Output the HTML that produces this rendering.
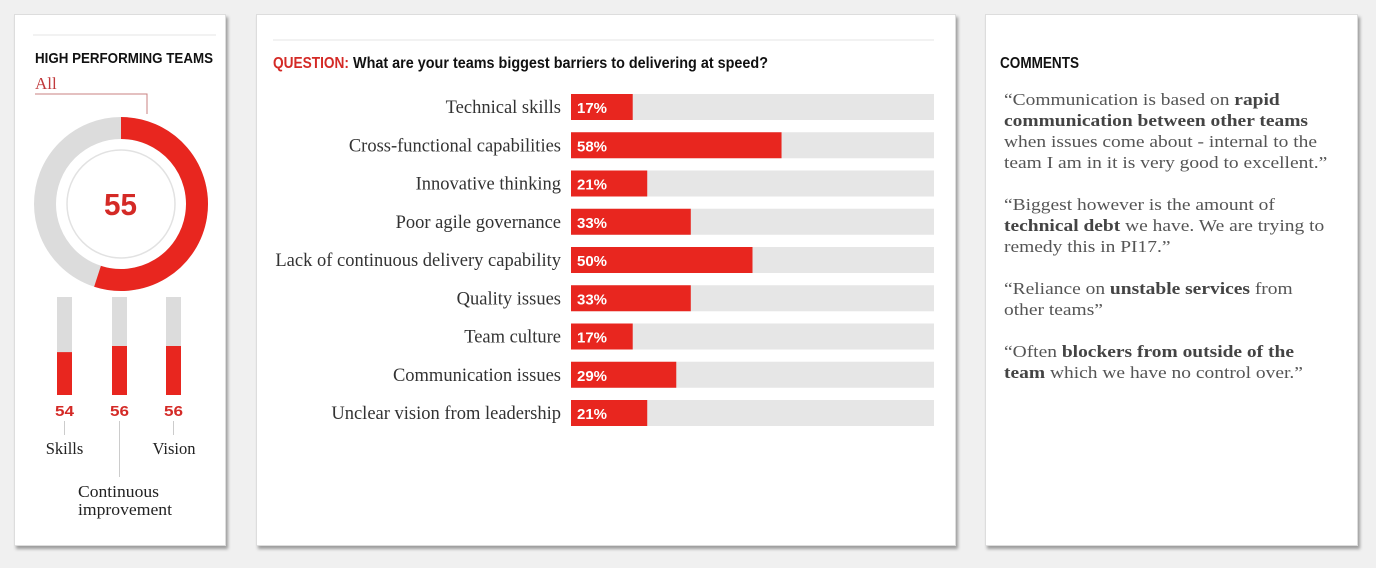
<!DOCTYPE html>
<html><head><meta charset="utf-8">
<style>
html,body{margin:0;padding:0;background:#f0f0f0;}
body{width:1376px;height:568px;position:relative;overflow:hidden;font-family:"Liberation Serif",serif;}
.panel{position:absolute;background:#fff;border:1px solid #ddd;box-shadow:2px 3px 3px rgba(0,0,0,0.35);}
.comments p{margin:0 0 21px 0;font-size:17px;line-height:21px;color:#555;white-space:nowrap;}
.comments b{color:#444;}
</style></head>
<body>
<div class="panel" style="left:14px;top:14px;width:210px;height:530px;"></div>
<div class="panel" style="left:256px;top:14px;width:698px;height:530px;"></div>
<div class="panel" style="left:985px;top:14px;width:371px;height:530px;"></div>

<svg id="left" width="240" height="568" style="position:absolute;left:0;top:0;"></svg>
<svg id="mid" width="960" height="568" style="position:absolute;left:0;top:0;"></svg>
<svg width="200" height="80" style="position:absolute;left:985px;top:0;">
<text x="15" y="68" font-family="Liberation Sans, sans-serif" font-weight="bold" font-size="16" fill="#111" textLength="79" lengthAdjust="spacingAndGlyphs">COMMENTS</text>
</svg>

<div class="comments" style="position:absolute;left:1004px;top:89px;transform:scaleX(1.145);transform-origin:0 0;">
<p>“Communication is based on <b>rapid<br>communication between other teams</b><br>when issues come about - internal to the<br>team I am in it is very good to excellent.”</p>
<p>“Biggest however is the amount of<br><b>technical debt</b> we have. We are trying to<br>remedy this in PI17.”</p>
<p>“Reliance on <b>unstable services</b> from<br>other teams”</p>
<p>“Often <b>blockers from outside of the<br>team</b> which we have no control over.”</p>
</div>

<script>
const NS="http://www.w3.org/2000/svg";
const overall=55;
const subCategories=["Skills","Continuous improvement","Vision"];
const subValues=[54,56,56];
const barCategories=["Technical skills","Cross-functional capabilities","Innovative thinking","Poor agile governance","Lack of continuous delivery capability","Quality issues","Team culture","Communication issues","Unclear vision from leadership"];
const barValues=[17,58,21,33,50,33,17,29,21];
const RED="#e8261f", GREY="#dcdcdc", TRACK="#e6e6e6";
const SANS='"Liberation Sans",sans-serif';

function mk(parent,tag,attrs,text){const e=document.createElementNS(NS,tag);for(const k in attrs)e.setAttribute(k,attrs[k]);if(text!==undefined)e.textContent=text;parent.appendChild(e);return e;}

// LEFT
const L=document.getElementById('left');
let e;
e=mk(L,'line',{x1:33,y1:35,x2:216,y2:35,stroke:'#e6e6e6','stroke-width':1});

e=mk(L,'text',{x:35,y:63,'font-family':SANS,'font-weight':'bold','font-size':15,fill:'#111',textLength:178,lengthAdjust:'spacingAndGlyphs'},'HIGH PERFORMING TEAMS');

e=mk(L,'text',{x:35,y:89,'font-size':17,fill:'#c0393b','font-family':'"Liberation Serif",serif'},'All');

e=mk(L,'polyline',{points:'35,94 147,94 147,114',fill:'none',stroke:'#c98080','stroke-width':1});

const cx=121,cy=204,R=76,W=22;
e=mk(L,'circle',{cx:cx,cy:cy,r:R,fill:'none',stroke:GREY,'stroke-width':W});

const ang=overall/100*2*Math.PI;
const ex=cx+R*Math.sin(ang), ey=cy-R*Math.cos(ang);
e=mk(L,'path',{d:`M${cx},${cy-R} A${R},${R} 0 ${overall>50?1:0} 1 ${ex},${ey}`,fill:'none',stroke:RED,'stroke-width':W});

e=mk(L,'circle',{cx:cx,cy:cy,r:54,fill:'#fff',stroke:'#e2e2e2','stroke-width':1.5});

e=mk(L,'text',{x:cx-17,y:cy+11,'font-family':SANS,'font-weight':'bold','font-size':31,fill:'#d42a26',textLength:33,lengthAdjust:'spacingAndGlyphs'},String(overall));


const vTop=297,vBot=395,vMin=40,vMax=72;
const vy=v=>vBot-(v-vMin)/(vMax-vMin)*(vBot-vTop);
const colX=[57,112,166];
subValues.forEach((v,i)=>{
  const x=colX[i];
  let r=mk(L,'rect',{x:x,y:vTop,width:15,height:vBot-vTop,fill:GREY});
  
  r=mk(L,'rect',{x:x,y:vy(v),width:15,height:vBot-vy(v),fill:RED});
  
  let t=mk(L,'text',{x:x-2,y:416,'font-family':SANS,'font-weight':'bold','font-size':15,fill:'#d42a26',textLength:19,lengthAdjust:'spacingAndGlyphs'},String(v));
  
  const lineEnd = i===1?477:435;
  let ln=mk(L,'line',{x1:x+7.5,y1:421,x2:x+7.5,y2:lineEnd,stroke:'#ccc','stroke-width':1});
  
});
e=mk(L,'text',{x:64.5,y:454,'text-anchor':'middle','font-size':16.5,fill:'#222'},subCategories[0]);

e=mk(L,'text',{x:174,y:454,'text-anchor':'middle','font-size':16.5,fill:'#222'},subCategories[2]);

e=mk(L,'text',{x:78,y:497,'font-size':16.5,fill:'#222',textLength:81,lengthAdjust:'spacingAndGlyphs'},'Continuous');

e=mk(L,'text',{x:78,y:515,'font-size':16.5,fill:'#222',textLength:94,lengthAdjust:'spacingAndGlyphs'},'improvement');


// MIDDLE
const M=document.getElementById('mid');
e=mk(M,'line',{x1:273,y1:40,x2:934,y2:40,stroke:'#e6e6e6','stroke-width':1});

e=mk(M,'text',{x:273,y:68,'font-family':SANS,'font-weight':'bold','font-size':15.5,fill:'#d42a26',textLength:76,lengthAdjust:'spacingAndGlyphs'},'QUESTION:');

e=mk(M,'text',{x:353,y:68,'font-family':SANS,'font-weight':'bold','font-size':15.5,fill:'#111',textLength:415,lengthAdjust:'spacingAndGlyphs'},'What are your teams biggest barriers to delivering at speed?');

const x0=571,x1=934,rowTop=94,rowStep=38.25,bh=26;
const bx=v=>x0+v/100*(x1-x0);
barCategories.forEach((c,i)=>{
  const y=rowTop+i*rowStep;
  let r=mk(M,'rect',{x:x0,y:y,width:x1-x0,height:bh,fill:TRACK});
  
  r=mk(M,'rect',{x:x0,y:y,width:bx(barValues[i])-x0,height:bh,fill:RED});
  
  let t=mk(M,'text',{x:x0+6,y:y+19,'font-family':SANS,'font-weight':'bold','font-size':15,fill:'#fff',textLength:30,lengthAdjust:'spacingAndGlyphs'},barValues[i]+'%');
  
  t=mk(M,'text',{x:561,y:y+19,'text-anchor':'end','font-size':18.5,fill:'#333','font-family':'"Liberation Serif",serif'},c);
  
});
</script>
</body></html>
